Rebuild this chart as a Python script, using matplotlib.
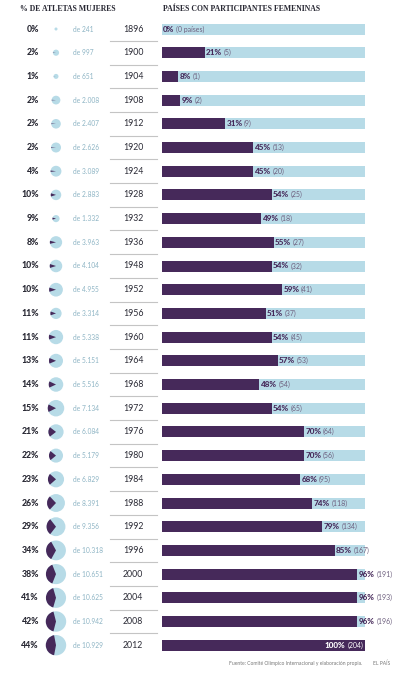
# Women at the Olympics: athletes share (pies) and countries with female participants (bars)

import numpy as np
import matplotlib.pyplot as plt
from matplotlib.patches import Wedge

years = [1896, 1900, 1904, 1908, 1912, 1920, 1924, 1928, 1932, 1936, 1948, 1952, 1956,
         1960, 1964, 1968, 1972, 1976, 1980, 1984, 1988, 1992, 1996, 2000, 2004, 2008, 2012]
women_pct = [0, 2, 1, 2, 2, 2, 4, 10, 9, 8, 10, 10, 11, 11, 13, 14, 15, 21, 22, 23, 26, 29,
             34, 38, 41, 42, 44]
total_athletes = [241, 997, 651, 2008, 2407, 2626, 3089, 2883, 1332, 3963, 4104, 4955, 3314,
                  5338, 5151, 5516, 7134, 6084, 5179, 6829, 8391, 9356, 10318, 10651, 10625,
                  10942, 10929]
country_pct = [0, 21, 8, 9, 31, 45, 45, 54, 49, 55, 54, 59, 51, 54, 57, 48, 54, 70, 70, 68,
               74, 79, 85, 96, 96, 96, 100]
country_n = [0, 5, 1, 2, 9, 13, 20, 25, 18, 27, 32, 41, 37, 45, 53, 54, 65, 64, 56, 95, 118,
             134, 167, 191, 193, 196, 204]

DARK = "#46295a"
LIGHT = "#b7dbe7"
TXT = "#2a2a35"
NCOL = "#6d5f7e"

plt.rcParams['font.family'] = ['Lato', 'DejaVu Sans']

W, H = 393, 675
fig = plt.figure(figsize=(W / 100, H / 100), dpi=100)
ax = fig.add_axes([0, 0, 1, 1])
ax.set_xlim(0, W)
ax.set_ylim(H, 0)
ax.axis("off")
renderer = fig.canvas.get_renderer()

row_y = 29 + np.arange(len(years)) * 23.7
bar_x0, bar_w, bar_h = 162, 203, 11
r_max = 10.2


def right_edge(t):
    # x (data units == pixels) of the right edge of a text
    bb = t.get_window_extent(renderer)
    return bb.x1


# headers
ax.text(20, 9, "% DE ATLETAS MUJERES", family="Liberation Serif", fontweight="bold",
        fontsize=5.6, color=TXT, va="center")
ax.text(163, 9, "PAÍSES CON PARTICIPANTES FEMENINAS", family="Liberation Serif",
        fontweight="bold", fontsize=5.6, color=TXT, va="center")

# background bars + country share bars
ax.barh(row_y, [bar_w] * len(years), left=bar_x0, height=bar_h, color=LIGHT)
ax.barh(row_y, np.array(country_pct) / 100 * bar_w, left=bar_x0, height=bar_h, color=DARK)

for i, y in enumerate(row_y):
    # left column
    ax.text(39, y, f"{women_pct[i]}%", ha="right", va="center", fontsize=6.3,
            fontweight="black", color=TXT)
    r = r_max * np.sqrt(total_athletes[i] / max(total_athletes))
    ax.add_patch(plt.Circle((56, y), r, color=LIGHT, lw=0))
    half = women_pct[i] * 3.6 / 2
    if women_pct[i] > 0:
        ax.add_patch(Wedge((56, y), r, 180 - half, 180 + half, color=DARK, lw=0))
    ax.text(73, y, "de " + f"{total_athletes[i]:,}".replace(",", "."), ha="left",
            va="center", fontsize=4.8, color="#8db4c4")
    ax.text(133, y, str(years[i]), ha="center", va="center", fontsize=6.3, color=TXT)
    if i > 0:
        ax.plot([110, 157], [y - 11.85, y - 11.85], color="#c4c4c4", lw=0.8)

    # bar labels
    end = bar_x0 + country_pct[i] / 100 * bar_w
    if years[i] == 1896:
        t = ax.text(bar_x0 + 1, y, "0%", ha="left", va="center", fontsize=5.9,
                    fontweight="black", color=DARK)
        ax.text(right_edge(t) + 1.5, y, "(0 países)", ha="left", va="center", fontsize=5,
                color=NCOL)
    elif country_pct[i] == 100:
        t = ax.text(end - 2, y, f"({country_n[i]})", ha="right", va="center", fontsize=5,
                    color="white")
        x0 = t.get_window_extent(renderer).x0
        ax.text(x0 - 2, y, "100%", ha="right", va="center", fontsize=5.9,
                fontweight="black", color="white")
    else:
        t = ax.text(end + 1.5, y, f"{country_pct[i]}%", ha="left", va="center", fontsize=5.9,
                    fontweight="black", color=DARK)
        gap = 2.5 if country_pct[i] > 90 else 1.5
        ax.text(right_edge(t) + gap, y, f"({country_n[i]})", ha="left", va="center",
                fontsize=5, color=NCOL)

ax.text(362, 663, "Fuente: Comité Olímpico Internacional y elaboración propia.", ha="right",
        va="center", fontsize=3.6, color="#777777")
ax.text(390, 663, "EL PAÍS", ha="right", va="center", fontsize=3.6, color="#777777")

fig.savefig("out.png", dpi=100, facecolor="white")
